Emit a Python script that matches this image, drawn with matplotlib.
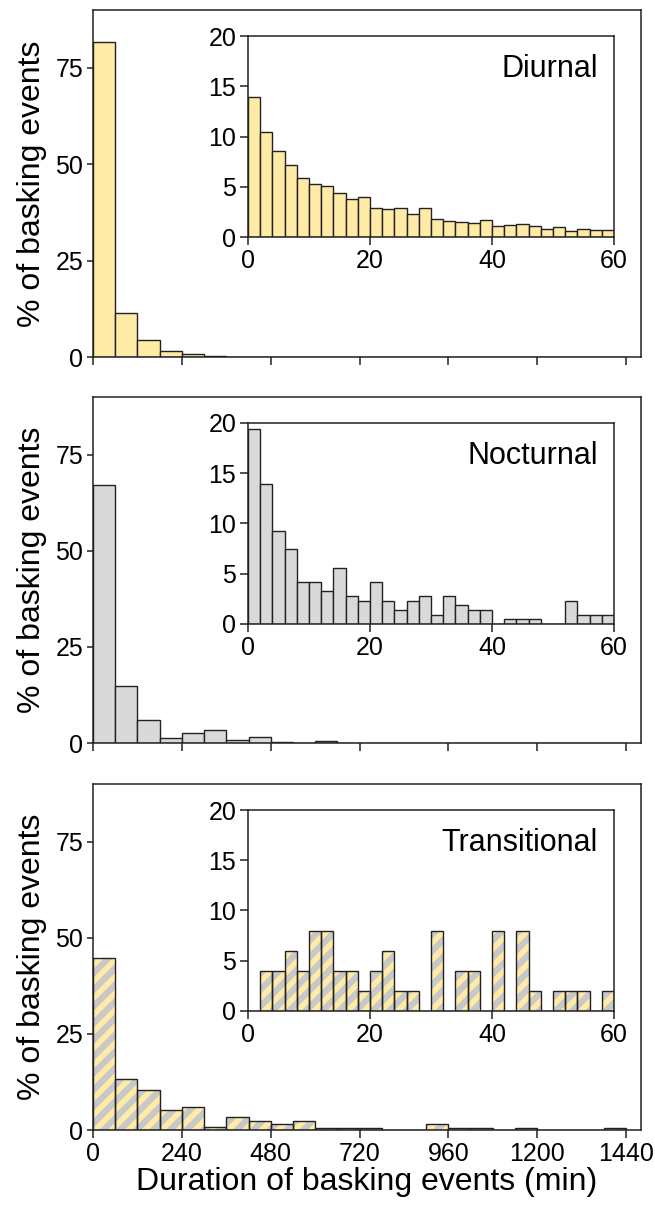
import numpy as np
import matplotlib
matplotlib.use('Agg')
import matplotlib.pyplot as plt

plt.rcParams['font.family'] = ['Liberation Sans', 'DejaVu Sans']
plt.rcParams['hatch.linewidth'] = 4.5

# main histograms: 60-min bins from 0 to 1440 min
main_edges = list(range(0, 1441, 60))
diurnal_main = [81.6, 11.5, 4.4, 1.6, 0.7, 0.2] + [0] * 18
nocturnal_main = [67.1, 14.8, 6.0, 1.2, 2.6, 3.5, 0.7, 1.6, 0.2, 0, 0.4] + [0] * 13
transitional_main = [44.8, 13.2, 10.5, 5.1, 6.0, 0.7, 3.3, 2.4, 1.6, 2.4,
                     0.6, 0.6, 0.6, 0, 0, 1.6, 0.6, 0.6, 0, 0.6, 0, 0, 0, 0.6]

# insets: 2-min bins from 0 to 60 min
inset_edges = list(range(0, 61, 2))
diurnal_inset = [13.9, 10.5, 8.6, 7.2, 5.9, 5.3, 5.05, 4.4, 3.75, 3.95,
                 2.85, 2.75, 2.9, 2.25, 2.9, 1.75, 1.6, 1.5, 1.4, 1.65,
                 1.05, 1.15, 1.25, 1.05, 0.8, 0.97, 0.57, 0.83, 0.72, 0.72]
nocturnal_inset = [19.44, 13.89, 9.26, 7.41, 4.17, 4.17, 3.24, 5.56, 2.78, 2.31,
                   4.17, 2.31, 1.39, 2.31, 2.78, 0.93, 2.78, 1.85, 1.39, 1.39,
                   0, 0.46, 0.46, 0.46, 0, 0, 2.31, 0.93, 0.93, 0.93]
transitional_inset = [0, 4, 4, 6, 4, 8, 8, 4, 4, 2,
                      4, 6, 2, 2, 0, 8, 0, 4, 4, 0,
                      8, 0, 8, 2, 0, 2, 2, 2, 0, 2]

labels = ['Diurnal', 'Nocturnal', 'Transitional']
yellow = '#FFEAA6'
grey = '#D9D9D9'
stripe = '#C8C8C8'
edge = '#222222'

fig = plt.figure(figsize=(6.55, 12.05), dpi=100)

main_pos = [[0.142, 0.7037, 0.8366, 0.2880],
            [0.142, 0.3834, 0.8366, 0.2871],
            [0.142, 0.0622, 0.8366, 0.2871]]
inset_pos = [[0.3786, 0.8033, 0.5588, 0.1668],
             [0.3786, 0.4822, 0.5588, 0.1668],
             [0.3786, 0.1610, 0.5588, 0.1668]]

mains = [diurnal_main, nocturnal_main, transitional_main]
insets = [diurnal_inset, nocturnal_inset, transitional_inset]


def draw_bars(ax, edges, heights, style):
    left = edges[:-1]
    w = np.diff(edges)
    if style == 'hatch':
        ax.bar(left, heights, width=w, align='edge', color=yellow,
               edgecolor=stripe, hatch='//', linewidth=0)
        ax.bar(left, heights, width=w, align='edge', fill=False,
               edgecolor=edge, linewidth=1.0)
    else:
        col = yellow if style == 'yellow' else grey
        ax.bar(left, heights, width=w, align='edge', color=col,
               edgecolor=edge, linewidth=1.0)


def style_axes(ax, size):
    for s in ax.spines.values():
        s.set_linewidth(1.1)
        s.set_color('#222222')
    ax.tick_params(direction='out', width=1.1, labelsize=size,
                   colors='#222222', labelcolor='black', pad=3)


styles = ['yellow', 'grey', 'hatch']
for i in range(3):
    ax = fig.add_axes(main_pos[i])
    draw_bars(ax, main_edges, mains[i], styles[i])
    ax.set_xlim(0, 1480)
    ax.set_ylim(0, 90)
    ax.set_xticks([0, 240, 480, 720, 960, 1200, 1440])
    ax.set_yticks([0, 25, 50, 75])
    style_axes(ax, 18)
    ax.tick_params(axis='x', length=5.5)
    ax.tick_params(axis='y', length=4)
    ax.set_ylabel('% of basking events', fontsize=23, labelpad=6)
    if i < 2:
        ax.set_xticklabels([])
    else:
        ax.set_xlabel('Duration of basking events (min)', fontsize=23, labelpad=1)

    axi = fig.add_axes(inset_pos[i])
    draw_bars(axi, inset_edges, insets[i], styles[i])
    axi.set_xlim(0, 60)
    axi.set_ylim(0, 20)
    axi.set_xticks([0, 20, 40, 60])
    axi.set_yticks([0, 5, 10, 15, 20])
    style_axes(axi, 18)
    axi.tick_params(length=5.5)
    axi.text(0.955, 0.835, labels[i], transform=axi.transAxes,
             ha='right', va='center', fontsize=22)

fig.savefig('out.png', dpi=100)
